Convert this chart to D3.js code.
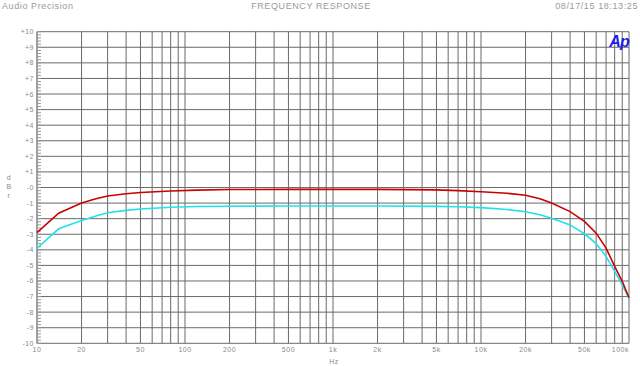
<!DOCTYPE html>
<html>
<head>
<meta charset="utf-8">
<script src="https://cdn.jsdelivr.net/npm/d3@7"></script>
<style>
	html,body{margin:0;padding:0;background:#fff;}
	svg{display:block;font-family:"Liberation Sans",Arial,sans-serif;}
	.hdr{fill:#9a9a9a;font-size:9px;letter-spacing:0.6px;}
	.tick{fill:#8a8a8a;font-size:7px;letter-spacing:0.5px;}
</style>
</head>
<body>
<svg id="chart"></svg>
<script>
const freqs = [10, 14, 20, 25, 30, 40, 50, 80, 120, 200, 500, 1000, 2000, 5000, 7000, 10000, 15000, 20000, 25000, 30000, 40000, 50000, 60000, 70000, 80000, 90000, 100000];
const redValues = [-2.9, -1.65, -1.0, -0.72, -0.55, -0.4, -0.32, -0.22, -0.17, -0.13, -0.12, -0.12, -0.12, -0.15, -0.2, -0.27, -0.37, -0.5, -0.72, -1.0, -1.55, -2.18, -2.93, -3.89, -5.06, -6.02, -7.08];
const cyanValues = [-3.9, -2.65, -2.12, -1.83, -1.62, -1.47, -1.38, -1.27, -1.22, -1.2, -1.19, -1.19, -1.19, -1.21, -1.24, -1.29, -1.41, -1.56, -1.75, -1.97, -2.4, -2.97, -3.6, -4.42, -5.38, -6.23, -7.14];
const xTickValues = [10, 20, 50, 100, 200, 500, 1000, 2000, 5000, 10000, 20000, 50000, 100000];
const xTickLabels = ['10', '20', '50', '100', '200', '500', '1k', '2k', '5k', '10k', '20k', '50k', '100k'];
const yTickValues = d3.range(-10, 11);
const yTickLabels = yTickValues.map(v => v > 0 ? '+' + v : '-' + Math.abs(v));

const width = 640, height = 366;
const margin = {left: 37, right: 11, top: 31.7, bottom: 22.7};

const svg = d3.select('#chart').attr('width', width).attr('height', height);

const x = d3.scaleLog()
	.domain([10, 100000])
	.range([margin.left, width - margin.right]);
const y = d3.scaleLinear()
	.domain([-10, 10])
	.range([height - margin.bottom, margin.top]);

// grid lines: every 1-2-3..9 per decade
const gridFreqs = [];
for(let d = 10; d < 100000; d *= 10){
	for(let m = 1; m < 10; m++) gridFreqs.push(d * m);
}
gridFreqs.push(100000);

const grid = svg.append('g');
grid.selectAll('line.v')
	.data(gridFreqs)
	.join('line')
		.classed('v', true)
		.attr('x1', d => x(d)).attr('x2', d => x(d))
		.attr('y1', y(10)).attr('y2', y(-10))
		.attr('stroke', '#6a6a6a')
		.attr('stroke-width', 1);
grid.selectAll('line.h')
	.data(yTickValues)
	.join('line')
		.classed('h', true)
		.attr('x1', x(10)).attr('x2', x(100000))
		.attr('y1', d => y(d)).attr('y2', d => y(d))
		.attr('stroke', '#6a6a6a')
		.attr('stroke-width', 1);

// left axis with minor ticks
svg.append('line')
	.attr('x1', x(10)).attr('x2', x(10))
	.attr('y1', y(10)).attr('y2', y(-10))
	.attr('stroke', '#8a8a8a');
svg.append('g').selectAll('line')
	.data(d3.range(-10, 10.01, 0.2))
	.join('line')
		.attr('x1', x(10)).attr('x2', x(10) + 4)
		.attr('y1', d => y(d)).attr('y2', d => y(d))
		.attr('stroke', '#9a9a9a');

svg.append('g').selectAll('text')
	.data(yTickValues)
	.join('text')
		.classed('tick', true)
		.attr('x', x(10) - 3)
		.attr('y', d => y(d) + 2.5)
		.attr('text-anchor', 'end')
		.text((d, i) => yTickLabels[i]);

svg.append('g').selectAll('text')
	.data(xTickValues)
	.join('text')
		.classed('tick', true)
		.attr('x', d => x(d))
		.attr('y', height - margin.bottom + 9)
		.attr('text-anchor', (d, i) => i == xTickValues.length - 1 ? 'end' : 'middle')
		.text((d, i) => xTickLabels[i]);

svg.append('text')
	.classed('tick', true)
	.attr('x', x(1000) + 1)
	.attr('y', 364)
	.attr('text-anchor', 'middle')
	.text('Hz');

svg.append('g').selectAll('text')
	.data(['d', 'B', 'r'])
	.join('text')
		.classed('tick', true)
		.attr('x', 9)
		.attr('y', (d, i) => 180 + i * 9)
		.attr('text-anchor', 'middle')
		.attr('font-size', '6px')
		.text(d => d);

// header
svg.append('text').classed('hdr', true).attr('x', 2).attr('y', 9).text('Audio Precision');
svg.append('text').classed('hdr', true).attr('x', 311).attr('y', 9).attr('text-anchor', 'middle').text('FREQUENCY RESPONSE');
svg.append('text').classed('hdr', true).attr('x', 638).attr('y', 9).attr('text-anchor', 'end').text('08/17/15 18:13:25');

svg.append('text')
	.attr('x', 619).attr('y', 47)
	.attr('text-anchor', 'middle')
	.attr('fill', '#1c1cf0')
	.attr('font-size', '16px')
	.attr('font-weight', 'bold')
	.attr('font-style', 'italic')
	.attr('letter-spacing', '-1px')
	.text('Ap');

// traces
const line = d3.line()
	.x(d => x(d[0]))
	.y(d => y(d[1]));
const series = [
	{name: 'ch1', color: '#cc0000', values: redValues},
	{name: 'ch2', color: '#1fe3ea', values: cyanValues}
];
svg.append('g').selectAll('path')
	.data(series.slice().reverse())
	.join('path')
		.attr('fill', 'none')
		.attr('stroke', d => d.color)
		.attr('stroke-width', 1.6)
		.attr('d', d => line(freqs.map((f, i) => [f, d.values[i]])));
</script>
</body>
</html>
